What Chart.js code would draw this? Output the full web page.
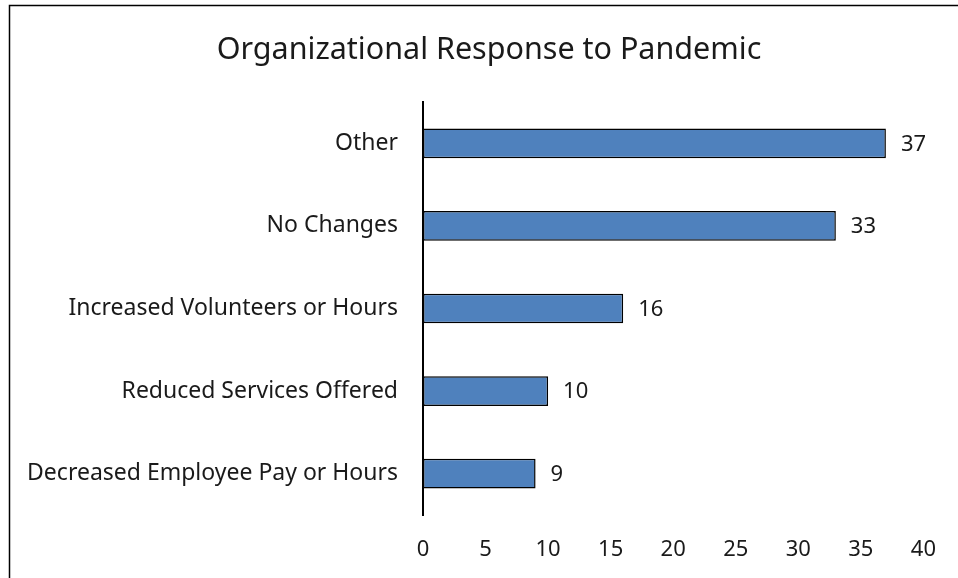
<!DOCTYPE html>
<html>
<head>
<meta charset="utf-8">
<title>Organizational Response to Pandemic</title>
<script src="https://cdn.jsdelivr.net/npm/chart.js@4"></script>
<style>
  html, body { margin: 0; padding: 0; background: #fff; }
  #wrap { width: 958px; height: 578px; position: relative; }
</style>
</head>
<body>
<div id="wrap"><canvas id="response-chart" width="958" height="578"></canvas></div>
<script>
// Chart data
const chartTitle = 'Organizational Response to Pandemic';
const categories = ['Other', 'No Changes', 'Increased Volunteers or Hours', 'Reduced Services Offered', 'Decreased Employee Pay or Hours'];
const responseCounts = [37, 33, 16, 10, 9];
const xTicks = [0, 5, 10, 15, 20, 25, 30, 35, 40];

const FONT = '"Noto Sans", "Open Sans", sans-serif';
const TEXT = '#1a1a1a';

// Frame line around the chart (top + left, the rest runs off the page) and the title
const framePlugin = {
  id: 'frame',
  beforeDraw(chart) {
    const ctx = chart.ctx;
    ctx.save();
    ctx.strokeStyle = '#000';
    ctx.lineWidth = 1.5;
    ctx.strokeRect(9.5, 5.5, 1200, 1200);
    ctx.font = '30.5px ' + FONT;
    ctx.fillStyle = TEXT;
    ctx.textAlign = 'center';
    ctx.textBaseline = 'middle';
    ctx.fillText(chartTitle, 489, 50);
    ctx.restore();
  }
};

// Value labels at the end of each bar
const valueLabels = {
  id: 'valueLabels',
  afterDatasetsDraw(chart) {
    const ctx = chart.ctx;
    const meta = chart.getDatasetMeta(0);
    ctx.save();
    ctx.font = '22px ' + FONT;
    ctx.fillStyle = TEXT;
    ctx.textAlign = 'left';
    ctx.textBaseline = 'middle';
    meta.data.forEach((bar, i) => {
      ctx.fillText(String(responseCounts[i]), bar.x + 15, bar.y + 1);
    });
    ctx.restore();
  }
};

new Chart(document.getElementById('response-chart'), {
  type: 'bar',
  data: {
    labels: categories,
    datasets: [{
      data: responseCounts,
      backgroundColor: '#4f81bd',
      borderColor: '#000',
      borderWidth: 1.5,
      borderSkipped: false,
      categoryPercentage: 1,
      barPercentage: 0.36
    }]
  },
  options: {
    indexAxis: 'y',
    responsive: false,
    animation: false,
    devicePixelRatio: 1,
    layout: { padding: { left: 20, right: 31, top: 102, bottom: 0 } },
    plugins: {
      legend: { display: false },
      tooltip: { enabled: false },
      title: { display: false }
    },
    scales: {
      x: {
        min: 0,
        max: 40,
        afterBuildTicks: (scale) => { scale.ticks = xTicks.map(v => ({ value: v })); },
        grid: { display: false, drawTicks: false },
        border: { display: false },
        ticks: { color: TEXT, font: { family: FONT, size: 22 }, padding: 22, maxRotation: 0 },
        afterFit: (scale) => { scale.height = 63; }
      },
      y: {
        grid: { display: false, drawTicks: false },
        border: { display: true, color: '#000', width: 2 },
        ticks: { color: TEXT, font: { family: FONT, size: 23 }, padding: 25 },
        afterFit: (scale) => { scale.width = 403; }
      }
    }
  },
  plugins: [framePlugin, valueLabels]
});
</script>
</body>
</html>
